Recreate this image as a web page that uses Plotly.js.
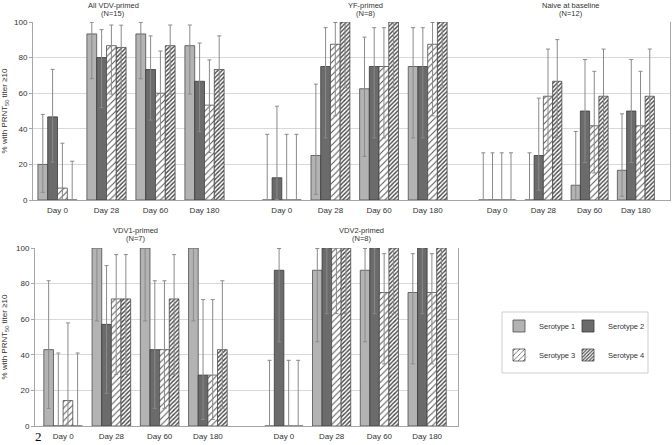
<!DOCTYPE html>
<html><head><meta charset="utf-8">
<script src="https://cdn.plot.ly/plotly-3.0.1.min.js"></script>
<style>html,body{margin:0;padding:0;background:#fff}#chart{width:672px;height:445px}</style>
</head><body><div id="chart"></div>
<script>
// ---------- data ----------
const days = ['Day 0', 'Day 28', 'Day 60', 'Day 180'];
const serotypes = ['Serotype 1', 'Serotype 2', 'Serotype 3', 'Serotype 4'];
const panelTitles = ['All VDV-primed', 'YF-primed', 'Naive at baseline', 'VDV1-primed', 'VDV2-primed'];
const panelNs = ['(N=15)', '(N=8)', '(N=12)', '(N=7)', '(N=8)'];

// rows = serotype 1..4, columns = Day 0, 28, 60, 180 (% with PRNT50 titer >=10, 95% CI)
const allVdvPct = [[20, 93.3, 93.3, 86.7], [46.7, 80, 73.3, 66.7], [6.7, 86.7, 60, 53.3], [0, 85.7, 86.7, 73.3]];
const allVdvLo  = [[4.3, 68.1, 68.1, 59.5], [21.3, 51.9, 44.9, 38.4], [0.2, 59.5, 32.3, 26.6], [0, 57.2, 59.5, 44.9]];
const allVdvHi  = [[48.1, 99.8, 99.8, 98.3], [73.4, 95.7, 92.2, 88.2], [31.9, 98.3, 83.7, 78.7], [21.8, 98.2, 98.3, 92.2]];

const yfPct = [[0, 25, 62.5, 75], [12.5, 75, 75, 75], [0, 87.5, 75, 87.5], [0, 100, 100, 100]];
const yfLo  = [[0, 3.2, 24.5, 34.9], [0.3, 34.9, 34.9, 34.9], [0, 47.3, 34.9, 47.3], [0, 63.1, 63.1, 63.1]];
const yfHi  = [[36.9, 65.1, 91.5, 96.8], [52.7, 96.8, 96.8, 96.8], [36.9, 99.7, 96.8, 99.7], [36.9, 100, 100, 100]];

const naivePct = [[0, 0, 8.3, 16.7], [0, 25, 50, 50], [0, 58.3, 41.7, 41.7], [0, 66.7, 58.3, 58.3]];
const naiveLo  = [[0, 0, 0.2, 2.1], [0, 5.5, 21.1, 21.1], [0, 27.7, 15.2, 15.2], [0, 34.9, 27.7, 27.7]];
const naiveHi  = [[26.5, 26.5, 38.5, 48.4], [26.5, 57.2, 78.9, 78.9], [26.5, 84.8, 72.3, 72.3], [26.5, 90.1, 84.8, 84.8]];

const vdv1Pct = [[42.9, 100, 100, 100], [0, 57.1, 42.9, 28.6], [14.3, 71.4, 42.9, 28.6], [0, 71.4, 71.4, 42.9]];
const vdv1Lo  = [[9.9, 59, 59, 59], [0, 18.4, 9.9, 3.7], [0.4, 29, 9.9, 3.7], [0, 29, 29, 9.9]];
const vdv1Hi  = [[81.6, 100, 100, 100], [41, 90.1, 81.6, 71], [57.9, 96.3, 81.6, 71], [41, 96.3, 96.3, 81.6]];

const vdv2Pct = [[0, 87.5, 87.5, 75], [87.5, 100, 100, 100], [0, 100, 75, 75], [0, 100, 100, 100]];
const vdv2Lo  = [[0, 47.3, 47.3, 34.9], [47.3, 63.1, 63.1, 63.1], [0, 63.1, 34.9, 34.9], [0, 63.1, 63.1, 63.1]];
const vdv2Hi  = [[36.9, 99.7, 99.7, 96.8], [99.7, 100, 100, 100], [36.9, 100, 96.8, 96.8], [36.9, 100, 100, 100]];

// ---------- layout helpers ----------
const W = 672, H = 445;
const px = v => v / W;
const py = v => 1 - v / H;
const FONT = 'Liberation Sans, Arial, sans-serif';
const TXT = '#333333';
const AXC = '#a6a6a6';

const panels = [
  {pct: allVdvPct, lo: allVdvLo, hi: allVdvHi, xa: 'x2', ya: 'y', dom: [33, 229], tx: 113, ty: 5},
  {pct: yfPct, lo: yfLo, hi: yfHi, xa: 'x3', ya: 'y', dom: [257.5, 452], tx: 365, ty: 5},
  {pct: naivePct, lo: naiveLo, hi: naiveHi, xa: 'x4', ya: 'y', dom: [474, 659], tx: 571, ty: 5},
  {pct: vdv1Pct, lo: vdv1Lo, hi: vdv1Hi, xa: 'x6', ya: 'y2', dom: [39, 232], tx: 135, ty: 230},
  {pct: vdv2Pct, lo: vdv2Lo, hi: vdv2Hi, xa: 'x7', ya: 'y2', dom: [260, 451], tx: 361, ty: 230}
];

const markers = [
  {color: '#b3b3b3', line: {color: '#4d4d4d', width: 0.8}},
  {color: '#6b6b6b', line: {color: '#3a3a3a', width: 0.8}},
  {color: '#ffffff', line: {color: '#4d4d4d', width: 0.8},
   pattern: {shape: '/', fgcolor: '#555555', bgcolor: '#ffffff', size: 4.5, solidity: 0.22}},
  {color: '#ffffff', line: {color: '#4d4d4d', width: 0.8},
   pattern: {shape: '/', fgcolor: '#444444', bgcolor: '#ffffff', size: 3, solidity: 0.45}}
];
const legendIds = ['legend', 'legend2', 'legend3', 'legend4'];

const traces = [
  {type: 'scatter', x: [], y: [], xaxis: 'x', yaxis: 'y', showlegend: false, hoverinfo: 'skip'},
  {type: 'scatter', x: [], y: [], xaxis: 'x5', yaxis: 'y2', showlegend: false, hoverinfo: 'skip'}
];

panels.forEach((p, pi) => {
  for (let s = 0; s < 4; s++) {
    traces.push({
      type: 'bar',
      x: days,
      y: p.pct[s],
      xaxis: p.xa, yaxis: p.ya,
      name: serotypes[s],
      legendgroup: 's' + s,
      legend: legendIds[s],
      showlegend: pi === 0,
      marker: markers[s],
      cliponaxis: false,
      error_y: {
        type: 'data', symmetric: false,
        array: p.hi[s].map((h, i) => h - p.pct[s][i]),
        arrayminus: p.lo[s].map((l, i) => p.pct[s][i] - l),
        color: '#8a8a8a', thickness: 1, width: 2
      },
      hoverinfo: 'skip'
    });
  }
});

function dummyX(dom, anchor) {
  return {domain: [px(dom[0]), px(dom[1])], anchor: anchor, range: [0, 1], showgrid: false, zeroline: false,
          showticklabels: false, ticks: '', showline: true, linecolor: AXC, linewidth: 1, fixedrange: true};
}
function panelX(dom, anchor) {
  return {domain: [px(dom[0]), px(dom[1])], anchor: anchor, type: 'category', showgrid: false, zeroline: false,
          showline: false, ticks: '', ticklabelstandoff: 4,
          tickfont: {family: FONT, size: 8, color: TXT}, fixedrange: true};
}
function yAx(top, bottom, anchor) {
  return {domain: [py(bottom), py(top)], anchor: anchor, range: [0, 100], dtick: 20, showgrid: true,
          gridcolor: '#d9d9d9', gridwidth: 1, zeroline: false, showline: true, linecolor: AXC, mirror: true,
          ticks: 'outside', ticklen: 3, tickcolor: AXC, tickfont: {family: FONT, size: 8, color: TXT},
          title: {text: '% with PRNT<sub>50</sub> titer \u226510', font: {family: FONT, size: 8, color: TXT}, standoff: 8},
          fixedrange: true};
}

const annotations = [];
panels.forEach((p, i) => {
  annotations.push({xref: 'paper', yref: 'paper', x: px(p.tx), y: py(p.ty), text: panelTitles[i], showarrow: false,
                    xanchor: 'center', yanchor: 'middle', font: {family: FONT, size: 7.5, color: TXT}});
  annotations.push({xref: 'paper', yref: 'paper', x: px(p.tx), y: py(p.ty + 8.5), text: panelNs[i], showarrow: false,
                    xanchor: 'center', yanchor: 'middle', font: {family: FONT, size: 7.5, color: TXT}});
});
annotations.push({xref: 'paper', yref: 'paper', x: px(38), y: py(436), text: '2', showarrow: false,
                  xanchor: 'center', yanchor: 'middle', font: {family: 'Liberation Serif, serif', size: 13, color: '#000'}});

function legendAt(lx, ly) {
  return {orientation: 'v', x: px(lx), y: py(ly), xanchor: 'left', yanchor: 'middle', bgcolor: 'rgba(0,0,0,0)',
          borderwidth: 0, font: {family: FONT, size: 7.5, color: TXT}};
}

const layout = {
  width: W, height: H,
  margin: {l: 0, r: 0, t: 0, b: 0},
  paper_bgcolor: '#ffffff', plot_bgcolor: 'rgba(0,0,0,0)',
  font: {family: FONT, size: 8, color: TXT},
  barmode: 'group', bargap: 0.2, bargroupgap: 0,
  xaxis: dummyX([33, 670], 'y'),
  xaxis2: panelX(panels[0].dom, 'y'),
  xaxis3: panelX(panels[1].dom, 'y'),
  xaxis4: panelX(panels[2].dom, 'y'),
  xaxis5: dummyX([35, 458], 'y2'),
  xaxis6: panelX(panels[3].dom, 'y2'),
  xaxis7: panelX(panels[4].dom, 'y2'),
  yaxis: yAx(22, 200, 'x'),
  yaxis2: yAx(248, 426, 'x5'),
  legend: legendAt(499, 326),
  legend2: legendAt(568, 326),
  legend3: legendAt(499, 355),
  legend4: legendAt(568, 355),
  shapes: [{type: 'rect', xref: 'paper', yref: 'paper', x0: px(502), x1: px(648), y0: py(373), y1: py(312),
            line: {color: '#cfcfcf', width: 1}, fillcolor: 'rgba(0,0,0,0)'}],
  annotations: annotations,
  showlegend: true
};

Plotly.newPlot('chart', traces, layout, {displayModeBar: false, staticPlot: true});
</script></body></html>
